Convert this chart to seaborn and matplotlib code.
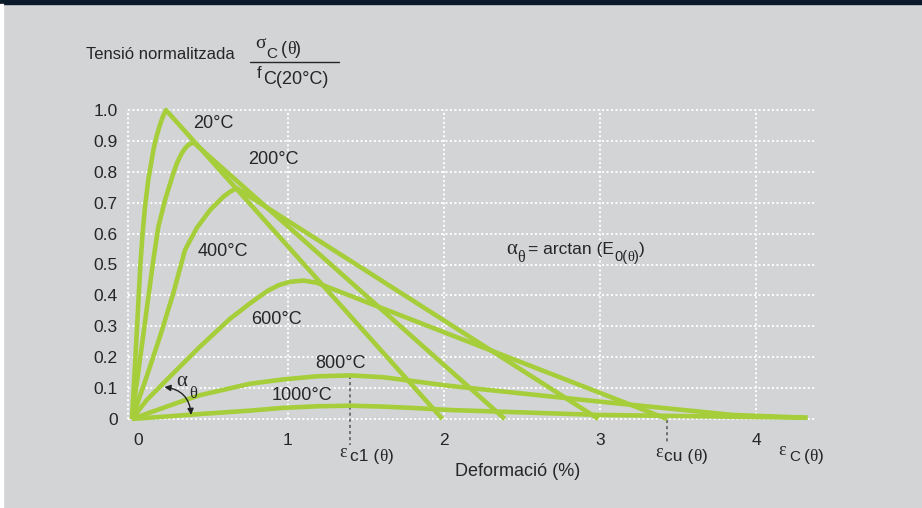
import matplotlib
matplotlib.use("Agg")
import matplotlib.pyplot as plt
import seaborn as sns
import pandas as pd
from matplotlib.patches import Rectangle, FancyArrowPatch
from matplotlib.transforms import ScaledTranslation

# ---------------- data ----------------
temps = ["20°C", "200°C", "400°C", "600°C", "800°C", "1000°C"]

strain_20 = [0, 0.02, 0.038, 0.054, 0.068, 0.084, 0.105, 0.137, 0.155, 0.175, 0.195, 0.218, 1.99]
stress_20 = [0, 0.18, 0.35, 0.50, 0.60, 0.69, 0.775, 0.87, 0.91, 0.945, 0.975, 1.0, 0]

strain_200 = [0, 0.07, 0.137, 0.169, 0.212, 0.265, 0.29, 0.319, 0.34, 0.361, 0.38, 0.397, 2.39]
stress_200 = [0, 0.263, 0.515, 0.622, 0.709, 0.795, 0.83, 0.860, 0.876, 0.887, 0.892, 0.894, 0]

strain_400 = [0, 0.094, 0.179, 0.265, 0.340, 0.415, 0.50, 0.585, 0.63, 0.671, 2.99]
stress_400 = [0, 0.137, 0.266, 0.407, 0.547, 0.618, 0.676, 0.719, 0.736, 0.747, 0]

strain_600 = [0, 0.094, 0.265, 0.436, 0.63, 0.70, 0.756, 0.87, 0.94, 1.013, 1.098, 1.184, 3.43]
stress_600 = [0, 0.061, 0.148, 0.234, 0.325, 0.352, 0.374, 0.415, 0.433, 0.444, 0.448, 0.441, 0]

strain_800 = [0, 0.351, 0.436, 0.756, 0.97, 1.184, 1.40, 1.611, 1.825, 2.038, 3.0, 3.853, 4.33]
stress_800 = [0, 0.063, 0.077, 0.114, 0.128, 0.138, 0.141, 0.135, 0.121, 0.107, 0.056, 0.013, 0.004]

strain_1000 = [0, 0.436, 0.756, 0.97, 1.184, 1.40, 1.611, 1.825, 2.038, 3.0, 4.33]
stress_1000 = [0, 0.016, 0.027, 0.036, 0.041, 0.043, 0.040, 0.035, 0.029, 0.013, 0.004]

eps_c1 = 1.40     # strain at peak (800/1000 °C)
eps_cu = 3.43     # ultimate strain (600 °C)

x_ticks = [0, 1, 2, 3, 4]
x_tick_labels = ["0", "1", "2", "3", "4"]
y_ticks = [0, 0.1, 0.2, 0.3, 0.4, 0.5, 0.6, 0.7, 0.8, 0.9, 1.0]
y_tick_labels = ["0", "0.1", "0.2", "0.3", "0.4", "0.5", "0.6", "0.7", "0.8", "0.9", "1.0"]

curves = {
    "20°C": (strain_20, stress_20),
    "200°C": (strain_200, stress_200),
    "400°C": (strain_400, stress_400),
    "600°C": (strain_600, stress_600),
    "800°C": (strain_800, stress_800),
    "1000°C": (strain_1000, stress_1000),
}
rows = []
for t in temps:
    xs, ys = curves[t]
    for i, (a, b) in enumerate(zip(xs, ys)):
        rows.append({"temp": t, "order": i, "strain": a, "stress": b})
df = pd.DataFrame(rows)

# ---------------- styling ----------------
W, H = 922, 508
BG = "#d3d4d6"
GREEN = "#a6cd3a"
TXT = "#262626"
SANS = "Liberation Sans"
SERIF = "Liberation Serif"

sns.set_theme(style="white")
plt.rcParams["font.family"] = [SANS, "DejaVu Sans"]

fig = plt.figure(figsize=(W / 100, H / 100), dpi=100, facecolor=BG)
# decorative frame strips
fig.patches.append(Rectangle((0, 1 - 3.5 / H), 1, 3.5 / H, transform=fig.transFigure,
                             color="#0b1a2a", zorder=0))
fig.patches.append(Rectangle((0, 0), 2.5 / W, 1 - 3.5 / H, transform=fig.transFigure,
                             color="white", zorder=0))

ax = fig.add_axes([127.3 / W, (H - 423.6) / H, (818.4 - 127.3) / W, (423.6 - 105.4) / H])
ax.set_facecolor("none")
ax.set_xlim(-0.03, 4.40)
ax.set_ylim(-0.015, 1.015)
for s in ax.spines.values():
    s.set_visible(False)

dots = (0, (1.0, 1.3))
ax.hlines(y_ticks, -0.026, 4.38, colors="white", linestyles=dots, lw=1.4, zorder=1)
ax.vlines([-0.026] + x_ticks[1:], 0, 1.0, colors="white", linestyles=dots, lw=1.4, zorder=1)

for t in temps:
    sub = df[df["temp"] == t]
    sns.lineplot(data=sub, x="strain", y="stress", sort=False, estimator=None,
                 color=GREEN, lw=3.3, ax=ax, zorder=3, solid_capstyle="butt")
ax.set_xlabel("")
ax.set_ylabel("")

ax.set_xticks(x_ticks, x_tick_labels)
ax.set_yticks(y_ticks, y_tick_labels)
ax.tick_params(axis="both", length=0, labelsize=12.5, labelcolor=TXT)
ax.tick_params(axis="x", pad=7)
ax.tick_params(axis="y", pad=7)
lab0 = ax.get_xticklabels()[0]
lab0.set_transform(lab0.get_transform() + ScaledTranslation(6 / 100, 0, fig.dpi_scale_trans))

# dashed markers for eps_c1 and eps_cu
ax.plot([eps_c1, eps_c1], [0.139, -0.084], color="#555555", lw=1.1,
        ls=(0, (2, 2)), clip_on=False, zorder=2)
ax.plot([eps_cu, eps_cu], [-0.004, -0.078], color="#555555", lw=1.1,
        ls=(0, (2, 2)), clip_on=False, zorder=2)

# ---------------- text helpers (pixel positions, y downward) ----------------
renderer = fig.canvas.get_renderer()


def ptext(x, y, s, size=12.5, family=SANS, ha="center", va="center", **kw):
    return fig.text(x / W, 1 - y / H, s, fontsize=size, family=family, ha=ha, va=va,
                    color=TXT, **kw)


def seq(x, baseline, parts):
    """parts: (text, family, size, dy_px, gap_px)"""
    for s, fam, size, dy, gap in parts:
        t = fig.text(x / W, 1 - (baseline + dy) / H, s, fontsize=size, family=fam,
                     ha="left", va="baseline", color=TXT)
        bb = t.get_window_extent(renderer=renderer)
        x += bb.width + gap


# curve labels
ptext(213, 123, "20°C", 13)
ptext(273, 160, "200°C", 13)
ptext(223, 251, "400°C", 13)
ptext(276, 320, "600°C", 13)
ptext(340, 364, "800°C", 13)
ptext(302, 396, "1000°C", 13)

# header
ptext(86, 59, "Tensió normalitzada", 12, ha="left", va="baseline")
seq(255, 54.5, [("σ", SERIF, 14, -6, 0.5), ("C", SANS, 11, 3, 3.5),
                ("(", SANS, 13, 0, 0), ("θ", SERIF, 13, 0, 0), (")", SANS, 13, 0, 0)])
fig.add_artist(plt.Line2D([250 / W, 339 / W], [1 - 62 / H, 1 - 62 / H], color=TXT, lw=1.0))
seq(257, 84.5, [("f", SANS, 12, -6, 1), ("C(20°C)", SANS, 13, 0, 0)])

# alpha formula
seq(506, 254, [("α", SERIF, 15, 0, 0), ("θ", SERIF, 11.5, 8, 3),
               ("= arctan (E", SANS, 12.5, 0, 0.5), ("0(", SANS, 10.5, 7, 0),
               ("θ", SERIF, 10.5, 7, 0), (")", SANS, 10.5, 7, 0), (")", SANS, 12.5, 0, 0)])

# strain labels
seq(339, 461, [("ε", SERIF, 13, -4, 3.5), ("c1 (", SANS, 12.5, 0, 0),
               ("θ", SERIF, 12.5, 0, 0), (")", SANS, 12.5, 0, 0)])
seq(655, 461, [("ε", SERIF, 13, -4, 1.5), ("cu (", SANS, 12.5, 0, 0),
               ("θ", SERIF, 12.5, 0, 0), (")", SANS, 12.5, 0, 0)])
seq(778, 461, [("ε", SERIF, 13, -6, 3.5), ("C", SANS, 11, 0, 3.5),
               ("(", SANS, 12.5, 0, 0), ("θ", SERIF, 12.5, 0, 0), (")", SANS, 12.5, 0, 0)])

ptext(518, 471, "Deformació (%)", 13)

# alpha_theta arc near origin
ptext(181.5, 381, "α", 15, family=SERIF)
ptext(193, 394, "θ", 12, family=SERIF)
arc = FancyArrowPatch(posA=(0.19, 0.104), posB=(0.38, 0.004),
                      connectionstyle="arc3,rad=-0.45", arrowstyle="<|-|>",
                      mutation_scale=9, color="#222222", lw=1.0, zorder=4,
                      transform=ax.transData)
ax.add_patch(arc)

fig.savefig("out.png", dpi=100, facecolor=BG)
